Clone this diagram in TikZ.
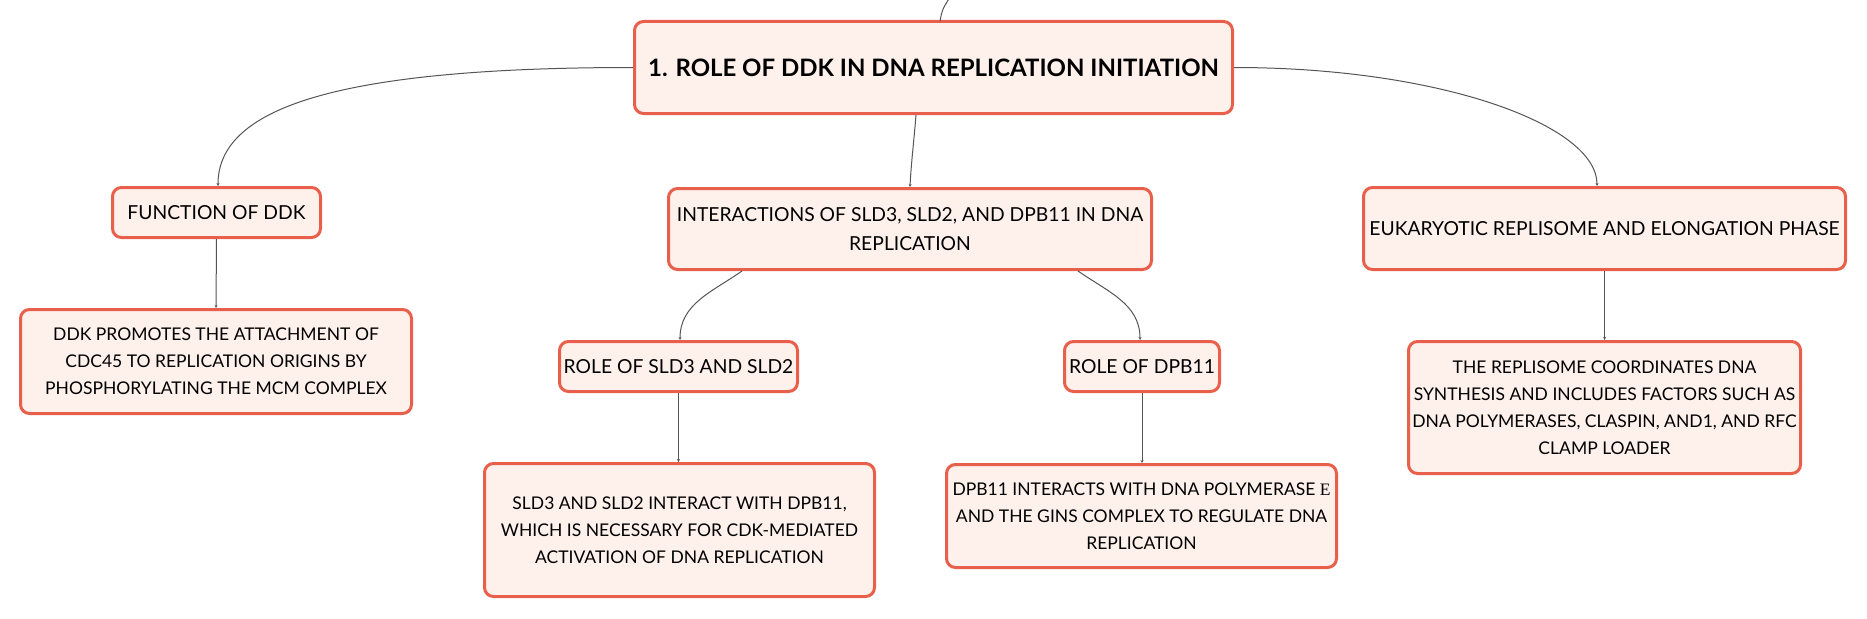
\documentclass[tikz,border=0pt]{standalone}
\usepackage{fontspec}
\setmainfont{Lato}
\newfontfamily\serifgreek{Liberation Serif}
\usetikzlibrary{arrows.meta,calc}
\definecolor{boxborder}{HTML}{E8604C}
\definecolor{boxfill}{HTML}{FEF1EC}
\definecolor{linkgray}{HTML}{555555}
\tikzset{
  mapbox/.style={draw=boxborder, fill=boxfill, line width=3pt, rounded corners=9pt,
    inner sep=0pt, align=center, text=black, font=\fontsize{19.3}{29}\selectfont},
  childbox/.style={mapbox, font=\fontsize{17.5}{27}\selectfont},
  rootbox/.style={mapbox, font=\fontsize{24}{28}\selectfont\bfseries},
  link/.style={draw=linkgray, line width=1pt, -{Stealth[length=3pt,width=3pt]}},
  plainlink/.style={draw=linkgray, line width=1pt}
}
\begin{document}
\begin{tikzpicture}[x=1pt,y=-1pt]
\useasboundingbox (0,0) rectangle (1867,618);
\fill[white] (0,0) rectangle (1867,618);

\node[rootbox, minimum width=598pt, minimum height=92pt] (root) at (933.5,67.5)
  {1. ROLE OF DDK IN DNA REPLICATION INITIATION};

\node[mapbox, minimum width=208pt, minimum height=50pt] (func) at (216.5,212.5)
  {FUNCTION OF DDK};
\node[childbox, minimum width=391pt, minimum height=104pt] (ddkc) at (216,361.5)
  {DDK PROMOTES THE ATTACHMENT OF\\CDC45 TO REPLICATION ORIGINS BY\\PHOSPHORYLATING THE MCM COMPLEX};

\node[mapbox, minimum width=483pt, minimum height=81pt] (inter) at (910,229)
  {INTERACTIONS OF SLD3, SLD2, AND DPB11 IN DNA\\REPLICATION};

\node[mapbox, minimum width=238pt, minimum height=50pt] (sld) at (678.5,366.5)
  {ROLE OF SLD3 AND SLD2};
\node[childbox, minimum width=390pt, minimum height=133pt] (sldc) at (679.5,530)
  {SLD3 AND SLD2 INTERACT WITH DPB11,\\WHICH IS NECESSARY FOR CDK-MEDIATED\\ACTIVATION OF DNA REPLICATION};

\node[mapbox, minimum width=155pt, minimum height=50pt] (dpb) at (1142,366.5)
  {ROLE OF DPB11};
\node[childbox, minimum width=390pt, minimum height=103pt] (dpbc) at (1141.5,516)
  {DPB11 INTERACTS WITH DNA POLYMERASE {\serifgreek Ε}\\AND THE GINS COMPLEX TO REGULATE DNA\\REPLICATION};

\node[mapbox, minimum width=482pt, minimum height=82pt] (euk) at (1604.5,228.5)
  {EUKARYOTIC REPLISOME AND ELONGATION PHASE};
\node[childbox, minimum width=392pt, minimum height=132pt] (eukc) at (1604.5,407.5)
  {THE REPLISOME COORDINATES DNA\\SYNTHESIS AND INCLUDES FACTORS SUCH AS\\DNA POLYMERASES, CLASPIN, AND1, AND RFC\\CLAMP LOADER};

\coordinate (topend) at (950,-3);

% connectors
\draw[plainlink] ($(root.north)+(6.5,1.5)$) .. controls (942,10) .. (topend);
\draw[link] (root.west) .. controls (330,67.5) and (218,110) .. ($(func.north)+(1.5,0)$);
\draw[link] (root.east) .. controls (1440,67.5) and (1597,125) .. ($(euk.north)+(-7.5,0)$);
\draw[link] ($(root.south)+(-17.5,0)$) .. controls (914,140) and (911,165) .. (inter.north);
\draw[link] ($(inter.south)+(-168,0)$) to[out=215,in=90] ($(sld.north)+(1.5,0)$);
\draw[link] ($(inter.south)+(168,0)$) to[out=-35,in=90] ($(dpb.north)+(-2,0)$);
\draw[link] (func.south) -- (ddkc.north);
\draw[link] (sld.south) -- (sld.south |- sldc.north);
\draw[link] (dpb.south) -- (dpb.south |- dpbc.north);
\draw[link] (euk.south) -- (eukc.north);
\end{tikzpicture}
\end{document}
